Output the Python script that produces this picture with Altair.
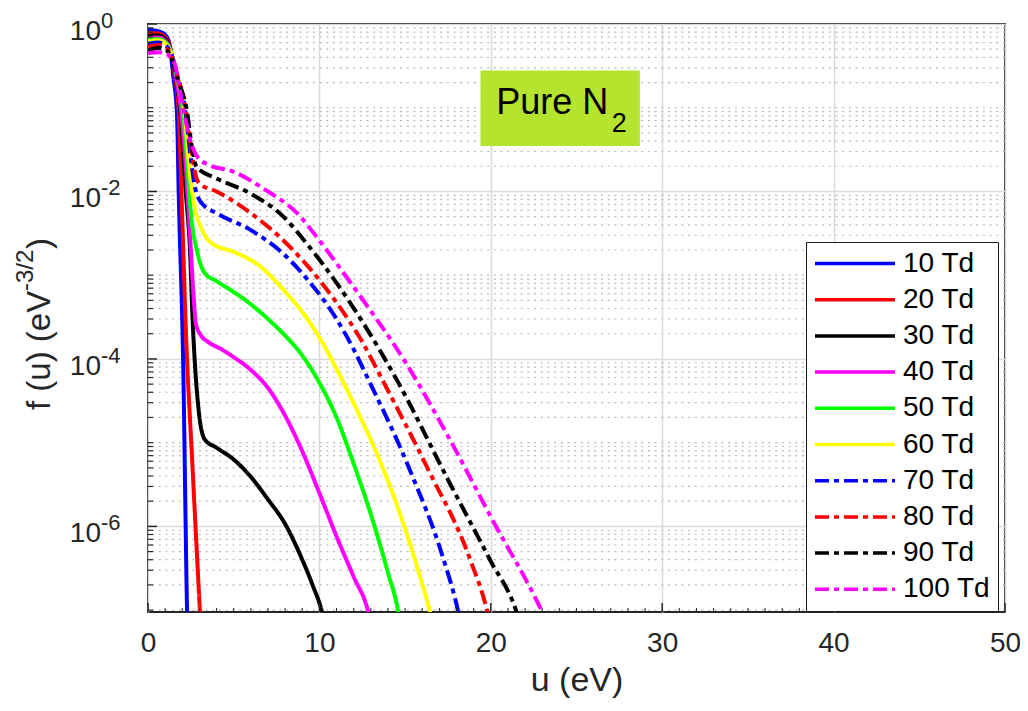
import altair as alt
import pandas as pd

SERIES = ["10 Td", "20 Td", "30 Td", "40 Td", "50 Td",
          "60 Td", "70 Td", "80 Td", "90 Td", "100 Td"]
COLORS = ["#0000ff", "#ff0000", "#000000", "#ff00ff", "#00ff00",
          "#ffff00", "#0000ff", "#ff0000", "#000000", "#ff00ff"]
DASHES = [[1, 0]] * 6 + [[14, 5, 5, 5]] * 4

U10 = [0, 0.6, 1.1, 1.3, 1.46, 1.69, 1.8, 2.04, 2.28, 2.32]
F10 = [0.85, 0.82, 0.7, 0.5, 0.25, 0.084, 0.008, 1.2e-4, 9.5e-8, 4e-8]

U20 = [0, 0.6, 1.1, 1.35, 1.55, 1.8, 1.95, 2.2, 2.6, 3.03, 3.1]
F20 = [0.78, 0.77, 0.66, 0.47, 0.25, 0.084, 0.01, 2.5e-4, 5e-6, 9.5e-8, 5e-8]

U30 = [0, 0.6, 1.1, 1.35, 1.6, 1.9, 2.2, 2.45, 2.6, 2.75, 2.95, 3.3, 4.0, 5.0,
       6.0, 7.0, 8.0, 9.0, 9.6, 10.15, 10.3]
F30 = [0.72, 0.73, 0.63, 0.46, 0.24, 0.084, 0.01, 0.002, 3e-4, 8e-5, 2.5e-5,
       1.1e-5, 8.7e-6, 6.3e-6, 3.9e-6, 2.1e-6, 1.07e-6, 4e-7, 2e-7, 9.5e-8, 7e-8]

U40 = [0, 0.6, 1.1, 1.35, 1.6, 1.95, 2.2, 2.45, 2.65, 2.8, 3.1, 3.5, 4.3,
       5.0, 6.0, 7.0, 8.0, 9.0, 10.0, 11.0, 12.0, 12.85, 13.0]
F40 = [0.68, 0.69, 0.6, 0.46, 0.25, 0.084, 0.02, 0.003, 6e-4, 2.6e-4, 1.9e-4,
       1.6e-4, 1.3e-4, 1.05e-4, 7.4e-5, 4.5e-5, 2.1e-5, 7.9e-6, 2.5e-6,
       7.6e-7, 2.5e-7, 9.5e-8, 7e-8]

U50 = [0, 0.6, 1.1, 1.35, 1.65, 2.05, 2.3, 2.45, 2.9, 3.3, 4.0, 5.0, 6.0, 7.0,
       8.0, 9.0, 10.0, 11.0, 12.0, 13.0, 14.0, 14.6, 14.75]
F50 = [0.65, 0.66, 0.58, 0.46, 0.25, 0.084, 0.02, 0.0072, 0.0018, 0.00107,
       8.5e-4, 6.3e-4, 4.5e-4, 3.0e-4, 1.9e-4, 1.1e-4, 5.2e-5, 2.0e-5, 5.6e-6,
       1.4e-6, 2.8e-7, 9.5e-8, 6e-8]

U60 = [0, 0.6, 1.1, 1.35, 1.7, 2.15, 2.4, 2.7, 3.15, 3.73, 5.0, 6.5, 7.9, 9.3,
       10.4, 11.0, 12.3, 13.7, 15.7, 16.45, 16.6]
F60 = [0.62, 0.64, 0.56, 0.45, 0.25, 0.084, 0.02, 0.007, 0.0035, 0.0024,
       0.0019, 0.0013, 6.7e-4, 3e-4, 1.3e-4, 7.6e-5, 2.2e-5, 5e-6, 3.3e-7,
       9.5e-8, 7e-8]

U70 = [0, 0.6, 1.1, 1.35, 1.7, 2.2, 2.45, 2.75, 3.15, 4.0, 5.95, 7.9, 9.3,
       11.0, 12.0, 12.8, 15.3, 17.2, 18.1, 18.3]
F70 = [0.58, 0.6, 0.54, 0.44, 0.25, 0.084, 0.03, 0.011, 0.0072, 0.0055,
       0.0035, 0.0018, 8.9e-4, 3e-4, 1.3e-4, 6e-5, 4.6e-6, 4.3e-7, 9.5e-8, 6e-8]

U80 = [0, 0.6, 1.1, 1.35, 1.7, 2.25, 2.5, 2.75, 3.0, 4.0, 6.0, 7.9, 9.3, 11.0,
       12.5, 13.7, 16.3, 18.8, 19.8, 20.1]
F80 = [0.53, 0.56, 0.51, 0.42, 0.24, 0.084, 0.035, 0.0165, 0.0124, 0.01,
       0.0055, 0.0026, 0.0013, 4.7e-4, 1.6e-4, 5.5e-5, 5e-6, 4e-7, 9.5e-8, 5e-8]

U90 = [0, 0.6, 1.1, 1.35, 1.7, 2.3, 2.55, 2.84, 4.0, 5.95, 7.9, 9.25, 11.0,
       12.5, 14.5, 17.6, 19.95, 21.5, 21.8]
F90 = [0.48, 0.52, 0.48, 0.4, 0.23, 0.084, 0.035, 0.0195, 0.0143, 0.0095,
       0.005, 0.0024, 8.1e-4, 2.8e-4, 5.7e-5, 3.3e-6, 4e-7, 9.5e-8, 6e-8]

U100 = [0, 0.6, 1.1, 1.35, 1.57, 1.87, 2.16, 2.45, 2.9, 3.5, 4.96, 6.9, 8.7,
        10.0, 11.4, 12.5, 14.9, 17.6, 20.0, 23.0, 23.3]
F100 = [0.45, 0.46, 0.44, 0.39, 0.33, 0.157, 0.077, 0.042, 0.0255, 0.021,
        0.0173, 0.0103, 0.0055, 0.0026, 1.07e-3, 5.2e-4, 1e-4, 1.1e-5, 1.3e-6,
        9.5e-8, 7e-8]

U_ALL = [U10, U20, U30, U40, U50, U60, U70, U80, U90, U100]
F_ALL = [F10, F20, F30, F40, F50, F60, F70, F80, F90, F100]

X_TICKS = [0, 10, 20, 30, 40, 50]
X_MINOR = [v for v in range(1, 50) if v % 10 != 0]
Y_TICKS = [1, 1e-2, 1e-4, 1e-6]
Y_EXP = ["0", "-2", "-4", "-6"]
Y_MINOR = [m * 10.0 ** k for k in range(-8, 0) for m in range(1, 10)
           if 9.5e-8 <= m * 10.0 ** k < 1 and not (m == 1 and k in (-2, -4, -6))]

BOX_U = [19.4]
BOX_U2 = [28.7]
BOX_F = [0.278]
BOX_F2 = [0.035]
NOTE_U = [26.85]
NOTE_F = [0.0838]
SUB_U = [27.05]
SUB_F = [0.0513]

rows = []
for name, us, fs in zip(SERIES, U_ALL, F_ALL):
    for i, (u, f) in enumerate(zip(us, fs)):
        rows.append({"series": name, "u": u, "f": f, "idx": i})
df = pd.DataFrame(rows)

W, H = 857, 588
FONT = "Liberation Sans"
INK = "#262626"

xs = alt.Scale(domain=[0, 50], nice=False, zero=False)
ys = alt.Scale(type="log", domain=[9.5e-8, 1], nice=False)

legend = alt.Legend(
    title=None, orient="none", legendX=658, legendY=218,
    symbolType="stroke", symbolSize=6400, symbolStrokeWidth=3.5,
    clipHeight=29, rowPadding=7.2, labelFontSize=28, labelFont=FONT,
    labelColor="black", labelOffset=6, padding=7, labelLimit=300,
    strokeColor="#1a1a1a", fillColor="white",
)

minor_grid = alt.Chart(pd.DataFrame({"v": Y_MINOR})).mark_rule(
    color="#b8b8b8", strokeWidth=1.2, strokeDash=[2, 4.7]
).encode(y=alt.Y("v:Q", scale=ys))

lines = alt.Chart(df).mark_line(
    strokeWidth=4, clip=True, interpolate="monotone"
).encode(
    x=alt.X("u:Q", scale=xs, axis=alt.Axis(
        values=X_TICKS, format="d", labelFontSize=28, labelFont=FONT,
        labelColor=INK, labelPadding=17, ticks=False, domain=False,
        grid=True, gridColor="#d9d9d9", gridWidth=1.5, labelFlush=False,
        title="u (eV)", titleFontSize=34, titleFont=FONT,
        titleFontWeight="normal", titleColor=INK, titlePadding=6)),
    y=alt.Y("f:Q", scale=ys, axis=alt.Axis(
        values=Y_TICKS, labels=False, ticks=False, domain=False, grid=True,
        gridColor="#d9d9d9", gridWidth=1.5, title=None)),
    color=alt.Color("series:N", scale=alt.Scale(domain=SERIES, range=COLORS),
                    legend=legend),
    strokeDash=alt.StrokeDash("series:N",
                              scale=alt.Scale(domain=SERIES, range=DASHES),
                              legend=legend),
    order="idx:Q",
)

box = alt.Chart(pd.DataFrame({"u1": BOX_U, "u2": BOX_U2, "f1": BOX_F, "f2": BOX_F2})
                ).mark_rect(color="#b5e42f").encode(
    x=alt.X("u1:Q", scale=xs), x2="u2:Q",
    y=alt.Y("f1:Q", scale=ys), y2="f2:Q")

note = alt.Chart(pd.DataFrame({"u": NOTE_U, "f": NOTE_F, "t": ["Pure N"]})).mark_text(
    align="right", baseline="alphabetic", fontSize=36, font=FONT, color="black"
).encode(x=alt.X("u:Q", scale=xs), y=alt.Y("f:Q", scale=ys), text="t:N")

sub = alt.Chart(pd.DataFrame({"u": SUB_U, "f": SUB_F, "t": ["2"]})).mark_text(
    align="left", baseline="alphabetic", fontSize=27, font=FONT, color="black"
).encode(x=alt.X("u:Q", scale=xs), y=alt.Y("f:Q", scale=ys), text="t:N")

ytick_major = alt.Chart(pd.DataFrame({"v": Y_TICKS})).mark_rule(
    color=INK, strokeWidth=1.5).encode(
    y=alt.Y("v:Q", scale=ys), x=alt.value(0), x2=alt.value(9))
ytick_minor = alt.Chart(pd.DataFrame({"v": Y_MINOR})).mark_rule(
    color=INK, strokeWidth=1.2).encode(
    y=alt.Y("v:Q", scale=ys), x=alt.value(0), x2=alt.value(5))
xtick_major = alt.Chart(pd.DataFrame({"v": X_TICKS})).mark_rule(
    color=INK, strokeWidth=1.5).encode(
    x=alt.X("v:Q", scale=xs), y=alt.value(H), y2=alt.value(H - 9))
xtick_minor = alt.Chart(pd.DataFrame({"v": X_MINOR})).mark_rule(
    color=INK, strokeWidth=1).encode(
    x=alt.X("v:Q", scale=xs), y=alt.value(H), y2=alt.value(H - 4))

ylab_df = pd.DataFrame({"v": Y_TICKS, "e": Y_EXP})
ylab_main = alt.Chart(ylab_df).mark_text(
    text="10", align="right", baseline="alphabetic", fontSize=28, font=FONT,
    color=INK, dy=16).encode(y=alt.Y("v:Q", scale=ys), x=alt.value(-47))
ylab_exp = alt.Chart(ylab_df).mark_text(
    align="left", baseline="alphabetic", fontSize=22, font=FONT,
    color=INK, dy=4).encode(y=alt.Y("v:Q", scale=ys), x=alt.value(-47), text="e:N")

t1 = alt.Chart(pd.DataFrame({"t": ["f (u) (eV"]})).mark_text(
    angle=270, align="left", baseline="alphabetic", fontSize=33, font=FONT,
    color=INK).encode(x=alt.value(-98), y=alt.value(386), text="t:N")
t2 = alt.Chart(pd.DataFrame({"t": ["-3/2"]})).mark_text(
    angle=270, align="left", baseline="alphabetic", fontSize=24, font=FONT,
    color=INK).encode(x=alt.value(-115), y=alt.value(267), text="t:N")
t3 = alt.Chart(pd.DataFrame({"t": [")"]})).mark_text(
    angle=270, align="left", baseline="alphabetic", fontSize=33, font=FONT,
    color=INK).encode(x=alt.value(-98), y=alt.value(225), text="t:N")

chart = alt.layer(
    minor_grid, lines, box, note, sub,
    ytick_major, ytick_minor, xtick_major, xtick_minor,
    ylab_main, ylab_exp, t1, t2, t3,
).properties(
    width=W, height=H,
    autosize=alt.AutoSizeParams(type="none"),
    padding={"left": 140, "top": 16, "right": 15, "bottom": 91},
    background="white",
).configure_view(stroke=INK, strokeWidth=2)

chart.save("out.html", embed_options={"renderer": "svg", "actions": False})
